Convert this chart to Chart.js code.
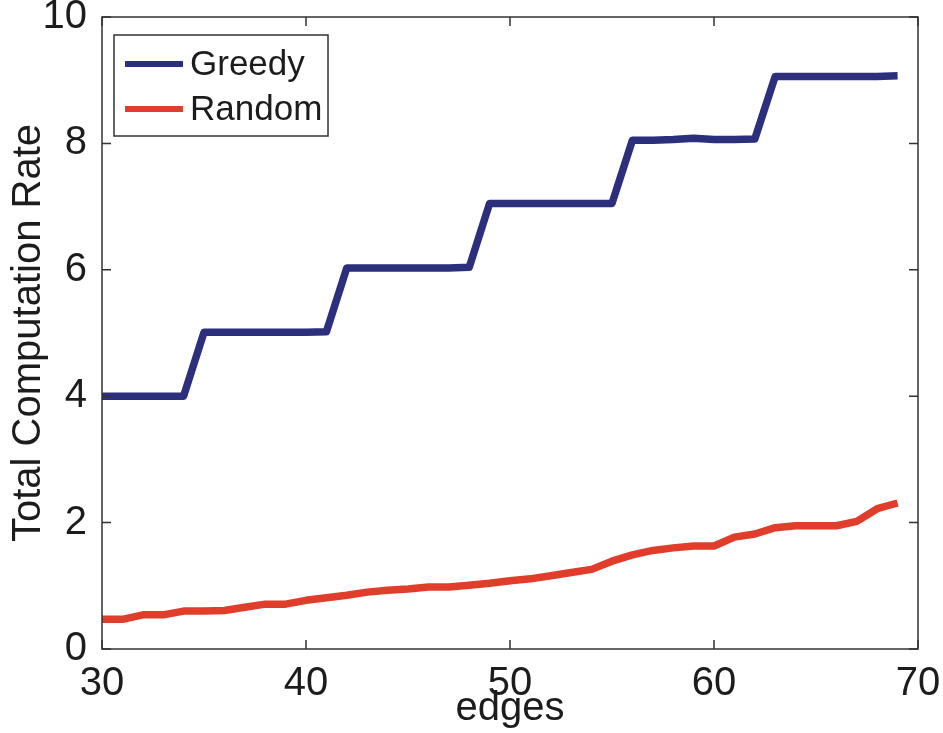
<!DOCTYPE html>
<html>
<head>
<meta charset="utf-8">
<script src="https://cdn.jsdelivr.net/npm/chart.js@4.4.1/dist/chart.umd.min.js"></script>
<style>
  html, body { margin: 0; padding: 0; background: #fff; }
  #wrap { width: 943px; height: 733px; }
</style>
</head>
<body>
<div id="wrap"><canvas id="rateChart" width="943" height="733"></canvas></div>
<script>
// số cạnh trên trục x
const edges = [30, 31, 32, 33, 34, 35, 36, 37, 38, 39,
               40, 41, 42, 43, 44, 45, 46, 47, 48, 49,
               50, 51, 52, 53, 54, 55, 56, 57, 58, 59,
               60, 61, 62, 63, 64, 65, 66, 67, 68, 69];

// tổng tốc độ tính toán - thuật toán tham lam
const greedy = [4.00, 4.00, 4.00, 4.00, 4.00,
                5.01, 5.01, 5.01, 5.01, 5.01, 5.01, 5.02,
                6.03, 6.03, 6.03, 6.03, 6.03, 6.03, 6.04,
                7.05, 7.05, 7.05, 7.05, 7.05, 7.05, 7.05,
                8.05, 8.05, 8.06, 8.08, 8.06, 8.06, 8.07,
                9.06, 9.06, 9.06, 9.06, 9.06, 9.06, 9.07];

// tổng tốc độ tính toán - chọn ngẫu nhiên
const random = [0.47, 0.47, 0.54, 0.54, 0.60, 0.60, 0.61, 0.66, 0.71, 0.71,
                0.77, 0.81, 0.85, 0.90, 0.93, 0.95, 0.98, 0.98, 1.01, 1.04,
                1.08, 1.11, 1.16, 1.21, 1.26, 1.39, 1.49, 1.56, 1.60, 1.63,
                1.63, 1.77, 1.82, 1.92, 1.95, 1.95, 1.95, 2.02, 2.22, 2.31];

const xTicks = [30, 40, 50, 60, 70];
const yTicks = [0, 2, 4, 6, 8, 10];

const FONT = "'Liberation Sans', Arial, Helvetica, sans-serif";
const INK = '#1c1c1c';

const toPoints = (ys) => edges.map((e, i) => ({ x: e, y: ys[i] }));

// khung hộp kiểu MATLAB: viền, vạch chia hướng vào trong, chú thích
const framePlugin = {
  id: 'framePlugin',
  afterDraw(chart) {
    const { ctx, chartArea: a, scales: { x, y } } = chart;
    ctx.save();
    ctx.strokeStyle = '#333';
    ctx.lineWidth = 1.5;
    ctx.strokeRect(a.left, a.top, a.right - a.left, a.bottom - a.top);

    const len = 9;
    ctx.beginPath();
    xTicks.forEach(v => {
      const px = x.getPixelForValue(v);
      ctx.moveTo(px, a.bottom); ctx.lineTo(px, a.bottom - len);
      ctx.moveTo(px, a.top); ctx.lineTo(px, a.top + len);
    });
    yTicks.forEach(v => {
      const py = y.getPixelForValue(v);
      ctx.moveTo(a.left, py); ctx.lineTo(a.left + len, py);
      ctx.moveTo(a.right, py); ctx.lineTo(a.right - len, py);
    });
    ctx.stroke();

    // hộp chú thích góc trên trái
    const bx = a.left + 12, by = a.top + 18, bw = 214, bh = 101;
    ctx.fillStyle = '#fff';
    ctx.fillRect(bx, by, bw, bh);
    ctx.strokeStyle = '#333';
    ctx.lineWidth = 1.5;
    ctx.strokeRect(bx, by, bw, bh);
    ctx.font = '35px ' + FONT;
    ctx.textBaseline = 'middle';
    chart.data.datasets.forEach((ds, i) => {
      const ly = by + 29 + i * 45;
      ctx.strokeStyle = ds.borderColor;
      ctx.lineWidth = 6;
      ctx.beginPath();
      ctx.moveTo(bx + 11, ly);
      ctx.lineTo(bx + 69, ly);
      ctx.stroke();
      ctx.fillStyle = INK;
      ctx.fillText(ds.label, bx + 76, ly + 1);
    });
    ctx.restore();
  }
};

const ctx = document.getElementById('rateChart').getContext('2d');

const rateChart = new Chart(ctx, {
  type: 'scatter',
  data: {
    datasets: [
      {
        label: 'Greedy',
        data: toPoints(greedy),
        showLine: true,
        borderColor: '#2c2f7c',
        borderWidth: 7.5,
        pointRadius: 0,
        borderJoinStyle: 'round',
        tension: 0
      },
      {
        label: 'Random',
        data: toPoints(random),
        showLine: true,
        borderColor: '#e03d2b',
        borderWidth: 7.5,
        pointRadius: 0,
        borderJoinStyle: 'round',
        tension: 0
      }
    ]
  },
  options: {
    responsive: false,
    animation: false,
    layout: { padding: { top: 17, right: 25, left: 0, bottom: 0 } },
    plugins: {
      legend: { display: false },
      tooltip: { enabled: false }
    },
    scales: {
      x: {
        type: 'linear',
        min: 30,
        max: 70,
        afterBuildTicks: (scale) => { scale.ticks = xTicks.map(v => ({ value: v })); },
        afterFit: (scale) => { scale.height = 84; scale.paddingLeft = 0; scale.paddingRight = 0; },
        grid: { display: false, drawTicks: false },
        border: { display: false },
        ticks: { padding: 11, color: INK, font: { family: FONT, size: 40 } },
        title: {
          display: true,
          text: 'edges',
          color: INK,
          font: { family: FONT, size: 40 },
          padding: { top: 0, bottom: 0 }
        }
      },
      y: {
        min: 0,
        max: 10,
        afterBuildTicks: (scale) => { scale.ticks = yTicks.map(v => ({ value: v })); },
        afterFit: (scale) => { scale.width = 102; scale.paddingTop = 0; scale.paddingBottom = 0; },
        grid: { display: false, drawTicks: false },
        border: { display: false },
        ticks: { padding: 15, color: INK, font: { family: FONT, size: 40 } },
        title: {
          display: true,
          text: 'Total Computation Rate',
          color: INK,
          font: { family: FONT, size: 40 },
          padding: { top: 5, bottom: 0 }
        }
      }
    }
  },
  plugins: [framePlugin]
});
</script>
</body>
</html>
